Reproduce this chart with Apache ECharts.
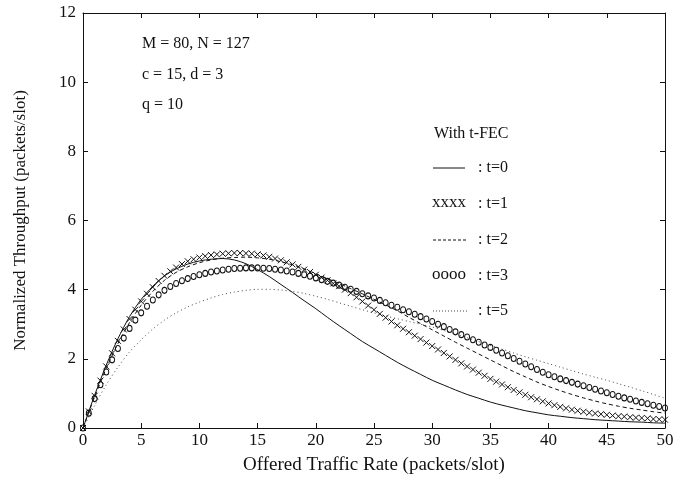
<!DOCTYPE html>
<html>
<head>
<meta charset="utf-8">
<script src="https://cdn.jsdelivr.net/npm/echarts@6/dist/echarts.min.js"></script>
<style>
  html, body { margin: 0; padding: 0; background: #fff; }
  #chart { width: 684px; height: 487px; }
</style>
</head>
<body>
<div id="chart"></div>
<script>
// offered traffic rate, step 1 (line curves)
const rateStep1 = [
  0, 1, 2, 3, 4, 5, 6, 7, 8, 9,
  10, 11, 12, 13, 14, 15, 16, 17, 18, 19,
  20, 21, 22, 23, 24, 25, 26, 27, 28, 29,
  30, 31, 32, 33, 34, 35, 36, 37, 38, 39,
  40, 41, 42, 43, 44, 45, 46, 47, 48, 49,
  50
]
// offered traffic rate, step 0.5 (marker curves)
const rateStepHalf = [
  0, 0.5, 1, 1.5, 2, 2.5, 3, 3.5, 4, 4.5,
  5, 5.5, 6, 6.5, 7, 7.5, 8, 8.5, 9, 9.5,
  10, 10.5, 11, 11.5, 12, 12.5, 13, 13.5, 14, 14.5,
  15, 15.5, 16, 16.5, 17, 17.5, 18, 18.5, 19, 19.5,
  20, 20.5, 21, 21.5, 22, 22.5, 23, 23.5, 24, 24.5,
  25, 25.5, 26, 26.5, 27, 27.5, 28, 28.5, 29, 29.5,
  30, 30.5, 31, 31.5, 32, 32.5, 33, 33.5, 34, 34.5,
  35, 35.5, 36, 36.5, 37, 37.5, 38, 38.5, 39, 39.5,
  40, 40.5, 41, 41.5, 42, 42.5, 43, 43.5, 44, 44.5,
  45, 45.5, 46, 46.5, 47, 47.5, 48, 48.5, 49, 49.5,
  50
]

// t=0 (solid)
const throughputT0 = [
  0, 0.95, 1.82, 2.58, 3.22, 3.72, 4.10, 4.40, 4.60, 4.74,
  4.83, 4.88, 4.90, 4.86, 4.75, 4.58, 4.38, 4.15, 3.92, 3.68,
  3.45, 3.20, 2.96, 2.73, 2.50, 2.30, 2.10, 1.90, 1.72, 1.55,
  1.38, 1.24, 1.10, 0.97, 0.86, 0.75, 0.66, 0.58, 0.50, 0.44,
  0.38, 0.34, 0.30, 0.27, 0.24, 0.22, 0.20, 0.18, 0.17, 0.15,
  0.14
]
// t=1 (x markers)
const throughputT1 = [
  0, 0.48, 0.93, 1.37, 1.78, 2.16, 2.52, 2.85, 3.15, 3.42,
  3.66, 3.88, 4.07, 4.25, 4.40, 4.53, 4.64, 4.74, 4.82, 4.88,
  4.93, 4.97, 5.00, 5.02, 5.04, 5.05, 5.06, 5.06, 5.05, 5.04,
  5.02, 4.99, 4.95, 4.90, 4.85, 4.79, 4.73, 4.66, 4.58, 4.51,
  4.43, 4.35, 4.27, 4.18, 4.10, 4.00, 3.90, 3.78, 3.66, 3.54,
  3.42, 3.30, 3.19, 3.08, 2.97, 2.87, 2.77, 2.67, 2.57, 2.47,
  2.37, 2.27, 2.17, 2.07, 1.97, 1.87, 1.78, 1.69, 1.60, 1.51,
  1.42, 1.34, 1.26, 1.18, 1.10, 1.03, 0.96, 0.89, 0.83, 0.77,
  0.71, 0.66, 0.61, 0.57, 0.53, 0.50, 0.47, 0.44, 0.42, 0.40,
  0.38, 0.36, 0.34, 0.33, 0.31, 0.30, 0.29, 0.28, 0.26, 0.25,
  0.24
]
// t=2 (dashed)
const throughputT2 = [
  0, 0.90, 1.72, 2.44, 3.05, 3.55, 3.95, 4.27, 4.50, 4.66,
  4.78, 4.86, 4.91, 4.93, 4.94, 4.92, 4.88, 4.81, 4.72, 4.60,
  4.46, 4.32, 4.18, 4.03, 3.88, 3.72, 3.56, 3.39, 3.20, 3.02,
  2.84, 2.66, 2.48, 2.31, 2.14, 1.97, 1.80, 1.63, 1.48, 1.33,
  1.20, 1.08, 0.97, 0.87, 0.78, 0.70, 0.63, 0.57, 0.52, 0.47,
  0.43
]
// t=3 (o markers)
const throughputT3 = [
  0, 0.43, 0.85, 1.25, 1.62, 1.97, 2.30, 2.60, 2.88, 3.12,
  3.33, 3.52, 3.70, 3.85, 3.98, 4.09, 4.18, 4.26, 4.32, 4.38,
  4.43, 4.47, 4.51, 4.54, 4.57, 4.59, 4.61, 4.62, 4.63, 4.63,
  4.63, 4.62, 4.61, 4.59, 4.57, 4.54, 4.51, 4.47, 4.43, 4.39,
  4.34, 4.29, 4.24, 4.19, 4.13, 4.07, 4.01, 3.95, 3.88, 3.82,
  3.76, 3.69, 3.62, 3.55, 3.49, 3.42, 3.36, 3.29, 3.22, 3.15,
  3.08, 3.00, 2.93, 2.85, 2.78, 2.70, 2.63, 2.55, 2.48, 2.40,
  2.33, 2.25, 2.17, 2.09, 2.01, 1.93, 1.85, 1.77, 1.69, 1.61,
  1.54, 1.48, 1.42, 1.37, 1.32, 1.27, 1.22, 1.17, 1.12, 1.07,
  1.02, 0.97, 0.92, 0.87, 0.83, 0.78, 0.74, 0.70, 0.66, 0.62,
  0.58
]
// t=5 (dotted)
const throughputT5 = [
  0, 0.65, 1.25, 1.76, 2.20, 2.55, 2.86, 3.12, 3.33, 3.50,
  3.64, 3.76, 3.86, 3.93, 3.98, 4.01, 4.01, 3.99, 3.95, 3.89,
  3.81, 3.72, 3.62, 3.52, 3.42, 3.33, 3.24, 3.16, 3.08, 3.00,
  2.92, 2.82, 2.72, 2.61, 2.50, 2.39, 2.28, 2.17, 2.06, 1.96,
  1.86, 1.76, 1.66, 1.56, 1.47, 1.38, 1.28, 1.18, 1.08, 0.97,
  0.86
]

const paramLines = ['M = 80, N = 127', 'c = 15, d = 3', 'q = 10']
const legendTitle = 'With t-FEC'
const legendLabels = [': t=0', ': t=1', ': t=2', ': t=3', ': t=5']

const serif = '"Liberation Serif", "DejaVu Serif", serif'
const ink = '#111'

const pairs = (xs, ys) => xs.map((x, i) => [x, ys[i]])

const chart = echarts.init(document.getElementById('chart'), null, { renderer: 'canvas' })

// top / right frame axes, ticks only
const frameAxis = {
  axisLabel: { show: false },
  axisLine: { show: true, onZero: false, lineStyle: { color: ink, width: 1 } },
  axisTick: { show: true, inside: true, length: 5, lineStyle: { color: ink } },
  splitLine: { show: false }
}

const textStyle = (text, size) => ({ text: text, font: size + 'px ' + serif, fill: ink, verticalAlign: 'middle' })

// legend drawn as plain text and short strokes
const legendRowsY = [168, 204, 240, 276, 311]
const legendGraphic = [
  { type: 'text', x: 434, y: 134, style: textStyle(legendTitle, 16) },
  { type: 'line', shape: { x1: 433, y1: legendRowsY[0], x2: 465, y2: legendRowsY[0] }, style: { stroke: ink, lineWidth: 1 } },
  { type: 'text', x: 432, y: legendRowsY[1] - 1, style: textStyle('xxxx', 17) },
  { type: 'line', shape: { x1: 433, y1: legendRowsY[2], x2: 467, y2: legendRowsY[2] }, style: { stroke: ink, lineWidth: 1, lineDash: [3, 2] } },
  { type: 'text', x: 432, y: legendRowsY[3] - 1, style: textStyle('oooo', 17) },
  { type: 'line', shape: { x1: 433, y1: legendRowsY[4], x2: 467, y2: legendRowsY[4] }, style: { stroke: '#444', lineWidth: 1, lineDash: [1, 2] } }
].concat(legendLabels.map((t, i) => ({
  type: 'text', x: 478, y: legendRowsY[i], style: textStyle(t, 16)
}))).concat(paramLines.map((t, i) => ({
  type: 'text', x: 142, y: 44 + i * 30.5, style: textStyle(t, 16)
})))

const option = {
  animation: false,
  backgroundColor: '#fff',
  grid: { left: 83, right: 19, top: 13, bottom: 59, containLabel: false },
  xAxis: [
    {
      type: 'value',
      min: 0, max: 50, interval: 5,
      name: 'Offered Traffic Rate (packets/slot)',
      nameLocation: 'middle',
      nameGap: 28,
      nameTextStyle: { fontFamily: serif, fontSize: 19, color: ink },
      axisLine: { show: true, onZero: false, lineStyle: { color: ink, width: 1 } },
      axisTick: { show: true, inside: true, length: 5, lineStyle: { color: ink } },
      axisLabel: { fontFamily: serif, fontSize: 17, color: ink, margin: 4 },
      splitLine: { show: false }
    },
    Object.assign({ type: 'value', min: 0, max: 50, interval: 5, position: 'top' }, frameAxis)
  ],
  yAxis: [
    {
      type: 'value',
      min: 0, max: 12, interval: 2,
      name: 'Normalized Throughput (packets/slot)',
      nameLocation: 'middle',
      nameGap: 54,
      nameTextStyle: { fontFamily: serif, fontSize: 17, color: ink },
      axisLine: { show: true, onZero: false, lineStyle: { color: ink, width: 1 } },
      axisTick: { show: true, inside: true, length: 5, lineStyle: { color: ink } },
      axisLabel: { fontFamily: serif, fontSize: 17, color: ink, margin: 7 },
      splitLine: { show: false }
    },
    Object.assign({ type: 'value', min: 0, max: 12, interval: 2, position: 'right' }, frameAxis)
  ],
  graphic: legendGraphic,
  series: [
    {
      name: 't=0',
      type: 'line',
      data: pairs(rateStep1, throughputT0),
      smooth: 0.3,
      symbol: 'none',
      lineStyle: { color: ink, width: 1 }
    },
    {
      name: 't=1',
      type: 'line',
      data: pairs(rateStepHalf, throughputT1),
      symbol: 'path://M0,0L10,10M10,0L0,10',
      symbolSize: 6,
      showAllSymbol: true,
      itemStyle: { color: 'none', borderColor: ink, borderWidth: 1 },
      lineStyle: { width: 0, opacity: 0 }
    },
    {
      name: 't=2',
      type: 'line',
      data: pairs(rateStep1, throughputT2),
      smooth: 0.3,
      symbol: 'none',
      lineStyle: { color: ink, width: 1, type: [4, 3] }
    },
    {
      name: 't=3',
      type: 'line',
      data: pairs(rateStepHalf, throughputT3),
      symbol: 'circle',
      symbolSize: [5, 6],
      showAllSymbol: true,
      itemStyle: { color: 'none', borderColor: ink, borderWidth: 1 },
      lineStyle: { width: 0, opacity: 0 }
    },
    {
      name: 't=5',
      type: 'line',
      data: pairs(rateStep1, throughputT5),
      smooth: 0.3,
      symbol: 'none',
      lineStyle: { color: '#444', width: 1, type: [1, 3] }
    }
  ]
}

chart.setOption(option)
</script>
</body>
</html>
